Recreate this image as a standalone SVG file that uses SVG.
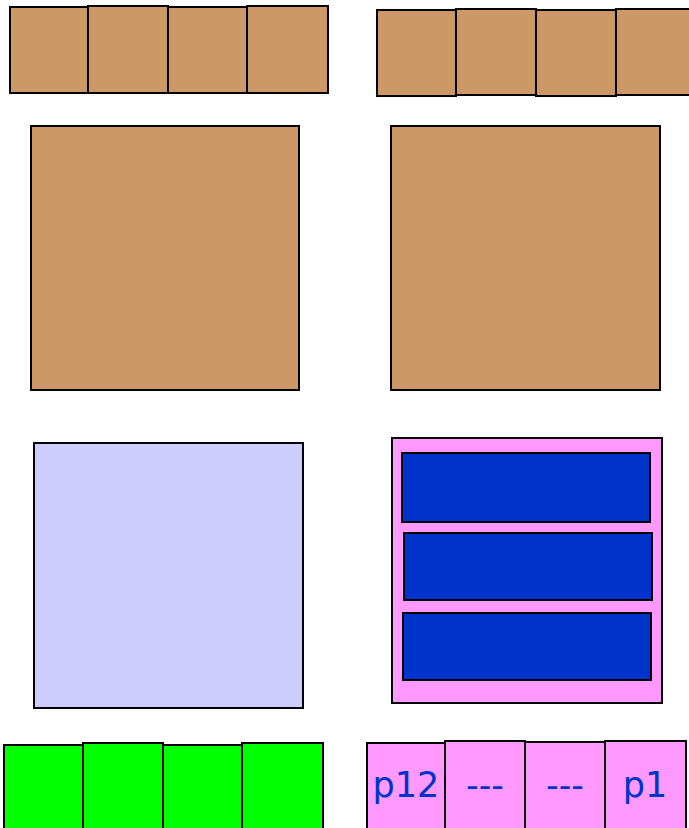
<svg xmlns="http://www.w3.org/2000/svg" width="689" height="828" viewBox="0 0 689 828">
<style>
rect{stroke:#000;stroke-width:2}
.b{fill:#cc9966}
.l{fill:#ccccff}
.p{fill:#ff99ff}
.d{fill:#0033cc}
.g{fill:#00ff00}
text{font-family:"DejaVu Sans",sans-serif;font-size:35px;fill:#0033cc;text-anchor:middle}
</style>
<rect width="689" height="828" fill="#fff" style="stroke:none"/>
<g id="topLeftRow">
<rect class="b" x="10" y="7" width="78" height="86"/>
<rect class="b" x="88" y="6" width="80" height="87"/>
<rect class="b" x="168" y="7" width="79" height="86"/>
<rect class="b" x="247" y="6" width="81" height="87"/>
</g>
<g id="topRightRow">
<rect class="b" x="377" y="10" width="79" height="86"/>
<rect class="b" x="456" y="9" width="80" height="86"/>
<rect class="b" x="536" y="10" width="80" height="86"/>
<rect class="b" x="616" y="9" width="80" height="86"/>
</g>
<g id="bigLeft"><rect class="b" x="31" y="126" width="268" height="264"/></g>
<g id="bigRight"><rect class="b" x="391" y="126" width="269" height="264"/></g>
<g id="lavender"><rect class="l" x="34" y="443" width="269" height="265"/></g>
<g id="pinkStack">
<rect class="p" x="392" y="438" width="270" height="265"/>
<rect class="d" x="402" y="453" width="248" height="69"/>
<rect class="d" x="404" y="533" width="248" height="67"/>
<rect class="d" x="403" y="613" width="248" height="67"/>
</g>
<g id="greenRow">
<rect class="g" x="4" y="745" width="79" height="90"/>
<rect class="g" x="83" y="743" width="80" height="92"/>
<rect class="g" x="163" y="745" width="79" height="90"/>
<rect class="g" x="242" y="743" width="81" height="92"/>
</g>
<g id="pinkRow">
<rect class="p" x="367" y="743" width="78" height="92"/>
<rect class="p" x="445" y="741" width="80" height="94"/>
<rect class="p" x="525" y="742" width="80" height="93"/>
<rect class="p" x="605" y="741" width="81" height="94"/>
<text x="406" y="797">p12</text>
<text x="485" y="797">---</text>
<text x="565" y="797">---</text>
<text x="645" y="797">p1</text>
</g>
</svg>
